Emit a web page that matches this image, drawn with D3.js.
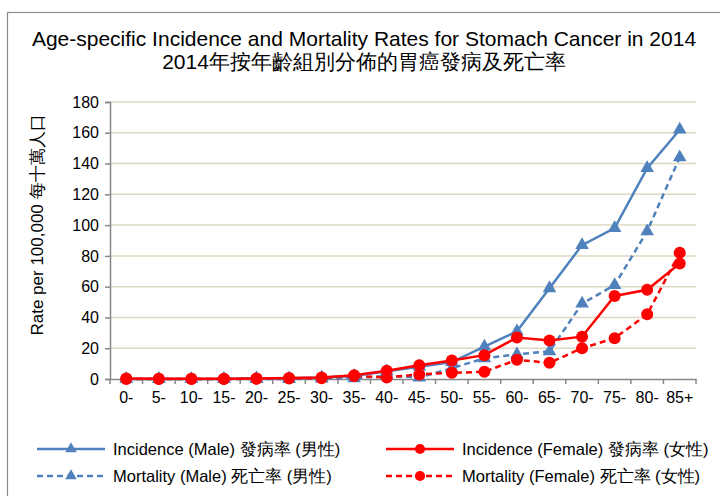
<!DOCTYPE html>
<html><head><meta charset="utf-8">
<script src="https://cdn.jsdelivr.net/npm/d3@7"></script>
<style>body{margin:0;background:#fff;} svg{display:block;font-family:"Liberation Sans",Arial,sans-serif;}</style>
</head><body><svg id="c" width="720" height="496"></svg>
<script>
const categories = ["0-","5-","10-","15-","20-","25-","30-","35-","40-","45-","50-","55-","60-","65-","70-","75-","80-","85+"];
const incidenceMale   = [0,0,0,0,0.5,0.5,1,2,5,8,11,21,31,59,87,98,137,162];
const incidenceFemale = [0.3,0.2,0.2,0.2,0.4,0.6,1,2.5,5.4,9,12,15.5,27,25,27.5,54,58,75];
const mortalityMale   = [0,0,0,0,0,0,0.3,0.5,2,1,7,13.5,16,18,49,61,96,144];
const mortalityFemale = [0,0,0,0,0.2,0.3,0.5,2,1,3,4,4.7,12.5,10.5,20,26.5,42,82];
const yTicks = [0,20,40,60,80,100,120,140,160,180];
const series = [
  {name:"Incidence (Male) 發病率 (男性)", values:incidenceMale, color:"#4F81BD", dash:null, marker:"tri"},
  {name:"Incidence (Female) 發病率 (女性)", values:incidenceFemale, color:"#FF0000", dash:null, marker:"dot"},
  {name:"Mortality (Male) 死亡率 (男性)", values:mortalityMale, color:"#4F81BD", dash:"6,4", marker:"tri"},
  {name:"Mortality (Female) 死亡率 (女性)", values:mortalityFemale, color:"#FF0000", dash:"6,4", marker:"dot"}
];
const svg = d3.select("#c");
svg.append("rect").attr("x",7.5).attr("y",12.5).attr("width",800).attr("height",600).attr("fill","#fff").attr("stroke","#8c8c8c").attr("stroke-width",1.2);
svg.append("text").attr("x",364).attr("y",46).attr("text-anchor","middle").attr("font-size",21).attr("fill","#000").text("Age-specific Incidence and Mortality Rates for Stomach Cancer in 2014");
svg.append("text").attr("x",364).attr("y",69).attr("text-anchor","middle").attr("font-size",21).attr("fill","#000").text("2014年按年齡組別分佈的胃癌發病及死亡率");

const L=110,R=696,T=102,B=379;
const x = d3.scaleBand().domain(categories).range([L,R]);
const y = d3.scaleLinear().domain([0,180]).range([B,T]);
svg.append("g").selectAll("line").data(yTicks.filter(d=>d>0)).join("line")
  .attr("x1",L).attr("x2",R).attr("y1",d=>y(d)).attr("y2",d=>y(d)).attr("stroke","#ddd8c2").attr("stroke-width",1.5);
const ya = svg.append("g").attr("transform",`translate(${L},0)`).call(d3.axisLeft(y).tickValues(yTicks).tickSize(5).tickPadding(6));
ya.select(".domain").attr("stroke","#888").attr("stroke-width",1.5);
ya.selectAll(".tick line").attr("stroke","#888").attr("stroke-width",1.5);
ya.selectAll("text").attr("font-size",16).attr("font-family","Liberation Sans, Arial").attr("fill","#000");
const xa = svg.append("g").attr("transform",`translate(0,${B})`).call(d3.axisBottom(x).tickSize(0).tickPadding(13));
xa.select(".domain").attr("stroke","#888").attr("stroke-width",1.5);
xa.selectAll("text").attr("font-size",16).attr("font-family","Liberation Sans, Arial").attr("fill","#000");
const bounds = categories.map(c=>x(c)).concat([R]);
svg.append("g").selectAll("line").data(bounds).join("line")
  .attr("x1",d=>d).attr("x2",d=>d).attr("y1",B).attr("y2",B+5).attr("stroke","#888").attr("stroke-width",1.5);

svg.append("text").attr("transform","translate(43,225) rotate(-90)").attr("text-anchor","middle").attr("font-size",17).attr("fill","#000").text("Rate per 100,000 每十萬人口");

const cx = c=>x(c)+x.bandwidth()/2;
function marker(g, s, px, py, scale){
  if(s.marker==="tri") g.append("path").attr("d",d3.symbol().type(d3.symbolTriangle).size(80*scale*scale)()).attr("transform",`translate(${px},${py})`).attr("fill",s.color);
  else g.append("circle").attr("cx",px).attr("cy",py).attr("r",6*scale).attr("fill",s.color);
}
const line = d3.line().x((d,i)=>cx(categories[i])).y(d=>y(d));
const order=[2,3,0,1];
order.forEach(k=>{
  const s=series[k];
  const g=svg.append("g");
  g.append("path").attr("d",line(s.values)).attr("fill","none").attr("stroke",s.color).attr("stroke-width",2.5).attr("stroke-dasharray",s.dash);
  s.values.forEach((v,i)=>marker(g,s,cx(categories[i]),y(v),1));
});
const legPos=[[37,449],[386,449],[37,476],[386,476]];
series.forEach((s,k)=>{
  const [lx,ly]=legPos[k];
  const g=svg.append("g");
  g.append("line").attr("x1",lx).attr("x2",lx+68).attr("y1",ly).attr("y2",ly).attr("stroke",s.color).attr("stroke-width",2.5).attr("stroke-dasharray",s.dash?"6,4":null);
  marker(g,s,lx+34,ly,0.85);
  g.append("text").attr("x",lx+76).attr("y",ly+6).attr("font-size",16.5).attr("fill","#000").text(s.name);
});
</script></body></html>
